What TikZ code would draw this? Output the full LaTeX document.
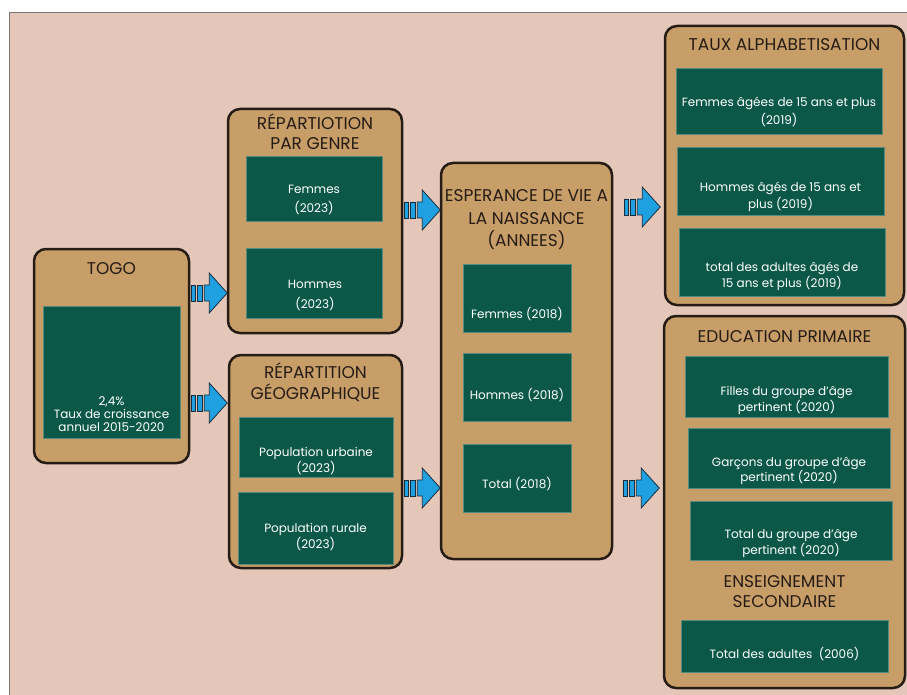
\documentclass[tikz,border=0pt]{standalone}
\usepackage{fontspec}
\setmainfont{Poppins}
\usetikzlibrary{positioning}
\definecolor{bgpink}{RGB}{229,199,186}
\definecolor{paneltan}{RGB}{200,158,104}
\definecolor{paneledge}{RGB}{38,28,22}
\definecolor{boxgreen}{RGB}{12,88,72}
\definecolor{arrowblue}{RGB}{30,160,225}
\definecolor{arrowedge}{RGB}{25,45,60}
\tikzset{
  panel/.style={draw=paneledge,fill=paneltan,line width=2.5pt,rounded corners=12pt,inner sep=0pt},
  green box/.style={fill=boxgreen,draw=boxgreen!70!white,line width=0.6pt,inner sep=0pt},
  panel title/.style={text=paneledge,font=\fontsize{17}{21}\selectfont,align=center,inner sep=0pt},
  box text/.style={text=white,font=\fontsize{12}{14.5}\selectfont,align=center,inner sep=0pt},
  stripe arrow/.pic={
    \filldraw[fill=arrowblue,draw=arrowedge,line width=0.8pt]
      (0,-8) rectangle (4.5,8) (6.5,-8) rectangle (11,8);
    \filldraw[fill=arrowblue,draw=arrowedge,line width=0.8pt]
      (13,-8) -- (18,-8) -- (18,-20) -- (36,0) -- (18,20) -- (18,8) -- (13,8) -- cycle;
  }
}

\begin{document}
\begin{tikzpicture}[x=1pt,y=-1pt]
  \useasboundingbox (0,0) rectangle (907,695);
  \fill[bgpink] (9,12) rectangle (907,695);
  \draw[paneledge!60,line width=0.8pt] (9,695) -- (9,12) -- (907,12);

  % togo
  \node[panel,minimum width=155pt,minimum height=214pt] (togo) at (111.5,356) {};
  \node[panel title] (togot) at (111.5,269) {TOGO};
  \node[green box,minimum width=137pt,minimum height=132pt] (togo1) at (111.5,372) {};
  \node[box text,font=\fontsize{12}{13}\selectfont] (togo1t) at (111.5,414) {2,4\%\\Taux de croissance\\annuel 2015-2020};

  % repartition par genre
  \node[panel,minimum width=174pt,minimum height=224pt] (genre) at (315,221) {};
  \node[panel title,font=\fontsize{17}{20}\selectfont] (genret) at (315,132) {RÉPARTIOTION\\PAR GENRE};
  \node[green box,minimum width=136pt,minimum height=65pt] (genre1) at (314,188.5) {};
  \node[box text,font=\fontsize{12}{19}\selectfont] (genre1t) at (314,199.5) {Femmes\\(2023)};
  \node[green box,minimum width=136pt,minimum height=70pt] (genre2) at (314,283) {};
  \node[box text,font=\fontsize{12}{20}\selectfont] (genre2t) at (315,295) {Hommes\\(2023)};

  % repartition geographique
  \node[panel,minimum width=173pt,minimum height=213pt] (geo) at (315.5,461.5) {};
  \node[panel title] (geot) at (315.5,382) {RÉPARTITION\\GÉOGRAPHIQUE};
  \node[green box,minimum width=154pt,minimum height=60pt] (geo1) at (316,447) {};
  \node[box text,font=\fontsize{12}{14}\selectfont] (geo1t) at (316,461) {Population urbaine\\(2023)};
  \node[green box,minimum width=155pt,minimum height=72pt] (geo2) at (315.5,528) {};
  \node[box text,font=\fontsize{12}{16}\selectfont] (geo2t) at (315.5,537) {Population rurale\\(2023)};

  % esperance de vie
  \node[panel,minimum width=171pt,minimum height=396pt] (esper) at (526.5,361) {};
  \node[panel title,font=\fontsize{17}{22.5}\selectfont] (espert) at (526.5,220) {ESPERANCE DE VIE A\\LA NAISSANCE\\(ANNEES)};
  \node[green box,minimum width=108pt,minimum height=68pt] (esper1) at (517,298) {};
  \node[box text] (esper1t) at (517,314) {Femmes (2018)};
  \node[green box,minimum width=108pt,minimum height=68pt] (esper2) at (517,387) {};
  \node[box text] (esper2t) at (517,395) {Hommes (2018)};
  \node[green box,minimum width=108pt,minimum height=68pt] (esper3) at (517,478) {};
  \node[box text] (esper3t) at (517,484) {Total (2018)};

  % taux alphabetisation
  \node[panel,minimum width=239pt,minimum height=279pt] (taux) at (784.5,165.5) {};
  \node[panel title] (tauxt) at (784.5,45) {TAUX ALPHABETISATION};
  \node[green box,minimum width=206pt,minimum height=66pt] (taux1) at (779,101) {};
  \node[box text,font=\fontsize{12}{18}\selectfont] (taux1t) at (779,112) {Femmes âgées de 15 ans et plus\\(2019)};
  \node[green box,minimum width=207pt,minimum height=68pt] (taux2) at (780.5,181) {};
  \node[box text,font=\fontsize{12}{17}\selectfont] (taux2t) at (780.5,196.5) {Hommes âgés de 15 ans et\\plus (2019)};
  \node[green box,minimum width=206pt,minimum height=68pt] (taux3) at (782,262) {};
  \node[box text,font=\fontsize{12}{16}\selectfont] (taux3t) at (782,276) {total des adultes âgés de\\15 ans et plus (2019)};

  % education
  \node[panel,minimum width=241pt,minimum height=372pt] (educ) at (784.5,502) {};
  \node[panel title] (euct) at (784.5,337) {EDUCATION PRIMAIRE};
  \node[green box,minimum width=203pt,minimum height=61pt] (educ1) at (786.5,386.5) {};
  \node[box text,font=\fontsize{12}{16}\selectfont] (educ1t) at (786.5,400) {Filles du groupe d’âge\\pertinent (2020)};
  \node[green box,minimum width=202pt,minimum height=60pt] (educ2) at (789,458) {};
  \node[box text,font=\fontsize{12}{14}\selectfont] (educ2t) at (789,471) {Garçons du groupe d’âge\\pertinent (2020)};
  \node[green box,minimum width=202pt,minimum height=59pt] (educ3) at (791,530.5) {};
  \node[box text,font=\fontsize{12}{14}\selectfont] (educ3t) at (791,543.5) {Total du groupe d’âge\\pertinent (2020)};
  \node[panel title,font=\fontsize{17}{20}\selectfont] (educt2) at (784.5,592) {ENSEIGNEMENT\\SECONDAIRE};
  \node[green box,minimum width=207pt,minimum height=52pt] (educ4) at (784.5,646) {};
  \node[box text] (educ4t) at (784.5,654) {Total des adultes~~(2006)};

  % arrows
  \pic at ([xshift=1pt]togo.east |- 0,293) {stripe arrow};
  \pic at ([xshift=1pt]togo.east |- 0,403) {stripe arrow};
  \pic at ([xshift=1pt]genre.east |- 0,210) {stripe arrow};
  \pic at ([xshift=1pt]geo.east |- 0,488) {stripe arrow};
  \pic at ([xshift=11pt]esper.east |- 0,207) {stripe arrow};
  \pic at ([xshift=10pt]esper.east |- 0,488) {stripe arrow};
\end{tikzpicture}
\end{document}
